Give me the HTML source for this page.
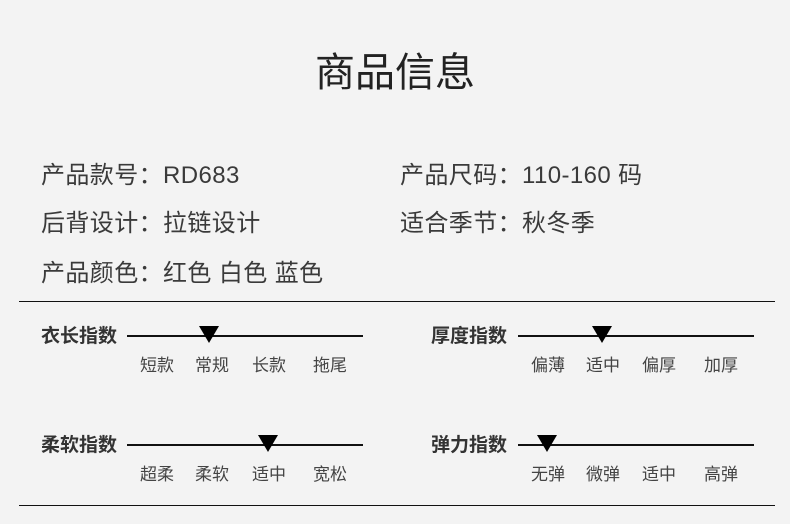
<!DOCTYPE html>
<html><head><meta charset="utf-8"><style>
body{margin:0;width:790px;height:524px;background:#f3f3f3;position:relative;overflow:hidden;font-family:"Liberation Sans","Noto Sans CJK SC",sans-serif;color:#333}
.a{position:absolute;white-space:nowrap}
.t{left:0;width:790px;text-align:center;top:47px;font-size:40px;color:#222;line-height:52px}
.i{font-size:24px;line-height:32px;color:#3a3a3a;letter-spacing:0.4px}
.h{position:absolute;height:2px;background:#111}
.k{font-size:19px;font-weight:bold;color:#333;line-height:24px}
.s{font-size:17px;color:#444;line-height:22px;transform:translateX(-50%)}
.tri{position:absolute;width:0;height:0;border-left:10px solid transparent;border-right:10px solid transparent;border-top:17px solid #000}
</style></head><body>
<div class="a t">商品信息</div>
<div class="a i" style="left:41px;top:160px">产品款号：RD683</div>
<div class="a i" style="left:400px;top:160px">产品尺码：110-160 码</div>
<div class="a i" style="left:41px;top:208px">后背设计：拉链设计</div>
<div class="a i" style="left:400px;top:208px">适合季节：秋冬季</div>
<div class="a i" style="left:41px;top:258px">产品颜色：红色 白色 蓝色</div>
<div class="h" style="left:19px;width:756px;top:301px;height:1px"></div>
<div class="h" style="left:19px;width:756px;top:505px;height:1px"></div>

<div class="a k" style="left:41px;top:325px">衣长指数</div>
<div class="h" style="left:127px;width:236px;top:335px"></div>
<div class="tri" style="left:199px;top:326px"></div>
<div class="a s" style="left:157px;top:355px">短款</div>
<div class="a s" style="left:212px;top:355px">常规</div>
<div class="a s" style="left:269px;top:355px">长款</div>
<div class="a s" style="left:330px;top:355px">拖尾</div>

<div class="a k" style="left:41px;top:434px">柔软指数</div>
<div class="h" style="left:127px;width:236px;top:444px"></div>
<div class="tri" style="left:258px;top:435px"></div>
<div class="a s" style="left:157px;top:464px">超柔</div>
<div class="a s" style="left:212px;top:464px">柔软</div>
<div class="a s" style="left:269px;top:464px">适中</div>
<div class="a s" style="left:330px;top:464px">宽松</div>

<div class="a k" style="left:431px;top:325px">厚度指数</div>
<div class="h" style="left:518px;width:236px;top:335px"></div>
<div class="tri" style="left:592px;top:326px"></div>
<div class="a s" style="left:548px;top:355px">偏薄</div>
<div class="a s" style="left:603px;top:355px">适中</div>
<div class="a s" style="left:659px;top:355px">偏厚</div>
<div class="a s" style="left:721px;top:355px">加厚</div>

<div class="a k" style="left:431px;top:434px">弹力指数</div>
<div class="h" style="left:518px;width:236px;top:444px"></div>
<div class="tri" style="left:537px;top:435px"></div>
<div class="a s" style="left:548px;top:464px">无弹</div>
<div class="a s" style="left:603px;top:464px">微弹</div>
<div class="a s" style="left:659px;top:464px">适中</div>
<div class="a s" style="left:721px;top:464px">高弹</div>
</body></html>
